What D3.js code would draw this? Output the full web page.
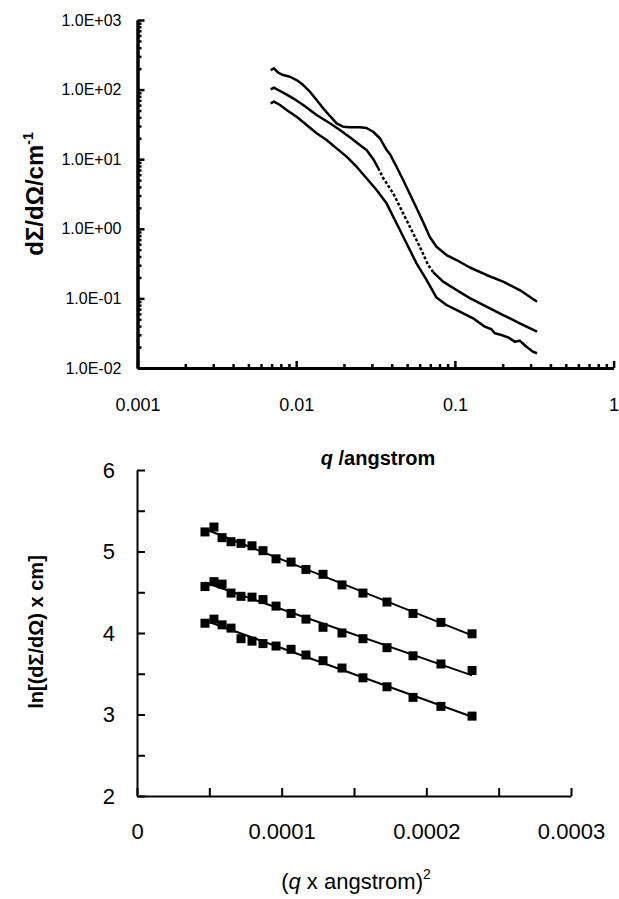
<!DOCTYPE html>
<html>
<head>
<meta charset="utf-8">
<script src="https://cdnjs.cloudflare.com/ajax/libs/d3/7.8.5/d3.min.js"></script>
<style>
body { margin: 0; background: #fff; }
svg { display: block; font-family: Arial, "Liberation Sans", sans-serif; }
</style>
</head>
<body>
<svg id="svg" width="619" height="899"></svg>
<script>
// ---- top chart: scattering curves (q in 1/angstrom, dSigma/dOmega in 1/cm)
var qHigh = [0.00690, 0.00724, 0.00770, 0.00828, 0.00913, 0.01006, 0.01107, 0.01220, 0.01345, 0.01479,
    0.01630, 0.01797, 0.01977, 0.02179, 0.02518, 0.02775, 0.03054, 0.03366, 0.03710, 0.03890,
    0.04287, 0.04718, 0.05200, 0.05731, 0.06306, 0.06948, 0.07657, 0.08856, 0.1023, 0.1242,
    0.1581, 0.2012, 0.2563, 0.3294]
var iHigh = [191, 202, 175, 162, 153, 137, 116, 93.3, 70.9, 53.9,
    41.8, 32.8, 29.3, 28.7, 28.7, 28.1, 24.8, 20.0, 13.6, 11.9,
    7.80, 5.02, 3.16, 1.99, 1.25, 0.762, 0.553, 0.420, 0.356, 0.278,
    0.217, 0.174, 0.132, 0.0897]

var qMid = [0.00690, 0.00724, 0.00770, 0.00828, 0.00957, 0.01107, 0.01345, 0.01630, 0.01885, 0.02179,
    0.02518, 0.02775, 0.03054, 0.03285, 0.03531, 0.04081, 0.04610, 0.05200, 0.06012, 0.06779,
    0.07289, 0.08427, 0.1023, 0.1242, 0.1581, 0.2012, 0.2563, 0.3294]
var iMid = [101, 107, 98.7, 90.3, 75.0, 60.1, 43.2, 32.8, 26.3, 20.6,
    16.0, 13.6, 10.1, 7.47, 5.37, 3.24, 1.86, 1.07, 0.553, 0.302,
    0.239, 0.174, 0.132, 0.101, 0.0760, 0.0577, 0.0439, 0.0332]
// q range where the middle curve is drawn dotted
var midDotted = [0.0328, 0.0678]

var qLow = [0.00690, 0.00724, 0.00790, 0.00870, 0.01006, 0.01163, 0.01345, 0.01554, 0.01797, 0.02077,
    0.02402, 0.02775, 0.03209, 0.03710, 0.04287, 0.04955, 0.05731, 0.06625, 0.07657, 0.08856,
    0.1073, 0.1302, 0.1543, 0.1700, 0.1784, 0.1966, 0.2163, 0.2383, 0.2563, 0.2824,
    0.3108, 0.3294]
var iLow = [63.6, 67.0, 60.1, 50.9, 40.8, 31.0, 23.6, 18.9, 14.3, 10.9,
    7.80, 5.32, 3.61, 2.32, 1.20, 0.619, 0.319, 0.184, 0.103, 0.0804,
    0.0644, 0.0518, 0.0392, 0.0360, 0.0315, 0.0298, 0.0276, 0.0239, 0.0247, 0.0202,
    0.0171, 0.0163]

var topXTicks = [0.001, 0.01, 0.1, 1]
var topXLabels = ['0.001', '0.01', '0.1', '1']
var topYTicks = [1e-2, 1e-1, 1e0, 1e1, 1e2, 1e3]
var topYLabels = ['1.0E-02', '1.0E-01', '1.0E+00', '1.0E+01', '1.0E+02', '1.0E+03']

// ---- bottom chart: ln(intensity) against q squared
var q2 = [4.70e-5, 5.32e-5, 5.88e-5, 6.50e-5, 7.19e-5, 7.95e-5, 8.71e-5, 9.61e-5, 1.065e-4, 1.168e-4,
    1.286e-4, 1.417e-4, 1.562e-4, 1.728e-4, 1.908e-4, 2.101e-4, 2.316e-4]
var lnHigh = [5.24, 5.30, 5.17, 5.12, 5.10, 5.07, 5.01, 4.91, 4.87, 4.78, 4.72, 4.59, 4.49, 4.38, 4.24, 4.13, 3.99]
var lnMid = [4.57, 4.63, 4.60, 4.49, 4.45, 4.44, 4.41, 4.33, 4.24, 4.17, 4.07, 4.00, 3.93, 3.82, 3.72, 3.62, 3.54]
var lnLow = [4.12, 4.17, 4.10, 4.06, 3.93, 3.90, 3.87, 3.84, 3.80, 3.73, 3.66, 3.57, 3.45, 3.34, 3.21, 3.10, 2.98]

var botXTicks = [0, 0.0001, 0.0002, 0.0003]
var botXLabels = ['0', '0.0001', '0.0002', '0.0003']
var botYTicks = [2, 3, 4, 5, 6]
var botYLabels = ['2', '3', '4', '5', '6']

var svg = d3.select('#svg')

function labelOf(ticks, labels) {
    return function(d) {
        var i = ticks.findIndex(function(t) { return Math.abs(t - d) < 1e-9 * Math.max(1, t) })
        return i < 0 ? '' : labels[i]
    }
}

// ================= top chart =================
var x1 = d3.scaleLog().domain([0.001, 1]).range([137.5, 613.6])
var y1 = d3.scaleLog().domain([0.01, 1000]).range([368, 20])

var minorX = [], minorY = []
topXTicks.slice(0, -1).forEach(function(t) {
    for (var k = 2; k < 10; k++) minorX.push(t * k)
})
topYTicks.slice(0, -1).forEach(function(t) {
    for (var k = 2; k < 10; k++) minorY.push(t * k)
})

var upper = svg.append('g')

// minor ticks first, then the labelled axes over them
upper.append('g')
    .attr('transform', 'translate(0,368)')
    .call(d3.axisBottom(x1).tickValues(minorX).tickSizeInner(-4).tickSizeOuter(0).tickFormat(''))
upper.append('g')
    .attr('transform', 'translate(137.5,0)')
    .call(d3.axisLeft(y1).tickValues(minorY).tickSizeInner(-4).tickSizeOuter(0).tickFormat(''))

var xa1 = upper.append('g')
    .attr('transform', 'translate(0,368)')
    .call(d3.axisBottom(x1).tickValues(topXTicks).tickSizeInner(-7).tickSizeOuter(0)
        .tickPadding(30).tickFormat(labelOf(topXTicks, topXLabels)))
var ya1 = upper.append('g')
    .attr('transform', 'translate(137.5,0)')
    .call(d3.axisLeft(y1).tickValues(topYTicks).tickSizeInner(-7).tickSizeOuter(0)
        .tickPadding(16).tickFormat(labelOf(topYTicks, topYLabels)))

upper.selectAll('.domain').attr('stroke', '#000').attr('stroke-width', 3)
upper.selectAll('.tick line').attr('stroke', '#000').attr('stroke-width', 2.5)
upper.selectAll('.tick text').attr('fill', '#000')
xa1.selectAll('.tick text').style('font-size', '18px')
ya1.selectAll('.tick text').style('font-size', '16px')

var curve = d3.line()
    .x(function(d) { return x1(d[0]) })
    .y(function(d) { return y1(d[1]) })

function pairs(qs, is) {
    return qs.map(function(q, i) { return [q, is[i]] })
}

// split the middle curve so the dotted part shares its end points with the solid parts
var midPts = pairs(qMid, iMid)
var a = midPts.findIndex(function(d) { return d[0] >= midDotted[0] })
var b = midPts.findIndex(function(d) { return d[0] >= midDotted[1] })
var lines = [
    { pts: pairs(qHigh, iHigh), dash: null },
    { pts: pairs(qLow, iLow), dash: null },
    { pts: midPts.slice(0, a + 1), dash: null },
    { pts: midPts.slice(a, b + 1), dash: '3,2' },
    { pts: midPts.slice(b), dash: null }
]

upper.selectAll('path.curve')
    .data(lines)
    .enter()
    .append('path')
    .attr('class', 'curve')
    .attr('d', function(d) { return curve(d.pts) })
    .attr('fill', 'none')
    .attr('stroke', '#000')
    .attr('stroke-width', 2.5)
    .attr('stroke-linejoin', 'round')
    .attr('stroke-dasharray', function(d) { return d.dash })

upper.append('text')
    .attr('transform', 'translate(43,194) rotate(-90)')
    .attr('text-anchor', 'middle')
    .style('font-size', '24px')
    .style('font-weight', 'bold')
    .html('dΣ/dΩ/cm<tspan dy="-10" font-size="14px">-1</tspan>')

upper.append('text')
    .attr('x', 378)
    .attr('y', 465)
    .attr('text-anchor', 'middle')
    .style('font-size', '20px')
    .style('font-weight', 'bold')
    .html('<tspan font-style="italic">q</tspan> /angstrom')

// ================= bottom chart =================
var x2 = d3.scaleLinear().domain([0, 0.0003]).range([137, 571])
var y2 = d3.scaleLinear().domain([2, 6]).range([796, 470])

var lower = svg.append('g')

var xa2 = lower.append('g')
    .attr('transform', 'translate(0,796)')
    .call(d3.axisBottom(x2).tickValues(d3.range(0, 0.00031, 0.00005)).tickSizeInner(-8).tickSizeOuter(0)
        .tickPadding(27).tickFormat(labelOf(botXTicks, botXLabels)))
var ya2 = lower.append('g')
    .attr('transform', 'translate(137,0)')
    .call(d3.axisLeft(y2).tickValues(d3.range(2, 6.01, 0.5)).tickSizeInner(-8).tickSizeOuter(0)
        .tickPadding(22).tickFormat(labelOf(botYTicks, botYLabels)))

lower.selectAll('.domain').attr('stroke', '#000').attr('stroke-width', 2)
lower.selectAll('.tick line').attr('stroke', '#000').attr('stroke-width', 2)
lower.selectAll('.tick text').attr('fill', '#000')
xa2.selectAll('.tick text').style('font-size', '22px')
ya2.selectAll('.tick text').style('font-size', '22px')

var sets = [lnHigh, lnMid, lnLow]

// least squares line through each set
function fit(ys) {
    var mx = d3.mean(q2), my = d3.mean(ys)
    var sxy = d3.sum(q2, function(x, i) { return (x - mx) * (ys[i] - my) })
    var sxx = d3.sum(q2, function(x) { return (x - mx) * (x - mx) })
    var k = sxy / sxx
    var c = my - k * mx
    var x0 = d3.min(q2), xe = d3.max(q2)
    return [[x0, c + k * x0], [xe, c + k * xe]]
}

var fitLine = d3.line()
    .x(function(d) { return x2(d[0]) })
    .y(function(d) { return y2(d[1]) })

lower.selectAll('path.fit')
    .data(sets)
    .enter()
    .append('path')
    .attr('class', 'fit')
    .attr('d', function(d) { return fitLine(fit(d)) })
    .attr('fill', 'none')
    .attr('stroke', '#000')
    .attr('stroke-width', 2)

sets.forEach(function(ys) {
    lower.selectAll(null)
        .data(ys)
        .enter()
        .append('rect')
        .attr('x', function(d, i) { return x2(q2[i]) - 4.5 })
        .attr('y', function(d) { return y2(d) - 4.5 })
        .attr('width', 9)
        .attr('height', 9)
        .attr('fill', '#000')
})

lower.append('text')
    .attr('transform', 'translate(43,632) rotate(-90)')
    .attr('text-anchor', 'middle')
    .style('font-size', '20px')
    .style('font-weight', 'bold')
    .text('ln[(dΣ/dΩ) x cm]')

lower.append('text')
    .attr('x', 356)
    .attr('y', 889)
    .attr('text-anchor', 'middle')
    .style('font-size', '22px')
    .html('(<tspan font-style="italic">q</tspan>  x angstrom)<tspan dy="-10" font-size="14px">2</tspan>')
</script>
</body>
</html>
